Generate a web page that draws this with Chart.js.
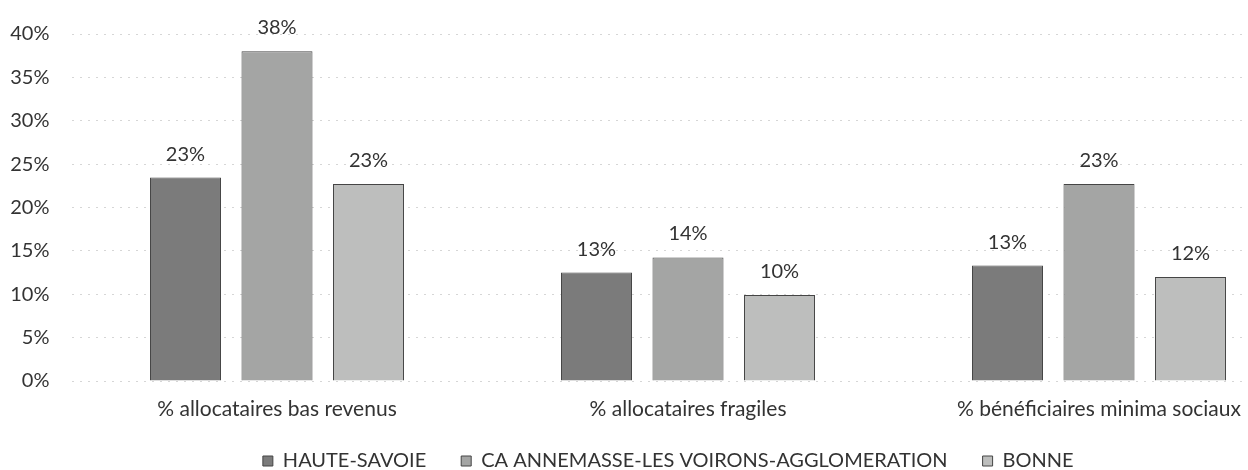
<!DOCTYPE html>
<html>
<head>
<meta charset="utf-8">
<script src="https://cdn.jsdelivr.net/npm/chart.js@4.4.1/dist/chart.umd.min.js"></script>
<style>
  html, body { margin: 0; padding: 0; background: #fff; overflow: hidden; width: 1248px; height: 470px; }
  #wrap { position: absolute; left: 0; top: 0; width: 1336px; height: 470px; }
</style>
</head>
<body>
<div id="wrap"><canvas id="c" width="1336" height="470"></canvas></div>
<script>
// Indicator categories (x axis)
const categories = ['% allocataires bas revenus', '% allocataires fragiles', '% bénéficiaires minima sociaux'];
// Territories (one series each)
const seriesNames = ['HAUTE-SAVOIE', 'CA ANNEMASSE-LES VOIRONS-AGGLOMERATION', 'BONNE'];
// Shares in percent
const hauteSavoie = [23.45, 12.5, 13.3];
const annemasse   = [38.0, 14.25, 22.7];
const bonne       = [22.7, 9.9, 12.0];
// Y axis tick values (percent)
const yTickValues = [0, 5, 10, 15, 20, 25, 30, 35, 40];

const FONT = 'Lato';
const TEXT = '#333333';
const LEGEND_FONT = 20;
const LEGEND_PAD = 35;
const LEGEND_TEXT_Y = 461;   // vertical centre of the legend row
const LEGEND_SHIFT_X = 16;

// Draws the rounded value above each bar
const valueLabels = {
  id: 'valueLabels',
  afterDatasetsDraw(chart) {
    const ctx = chart.ctx;
    ctx.save();
    ctx.font = '20px ' + FONT;
    ctx.fillStyle = TEXT;
    ctx.textAlign = 'center';
    ctx.textBaseline = 'alphabetic';
    chart.data.datasets.forEach((ds, i) => {
      chart.getDatasetMeta(i).data.forEach((bar, j) => {
        ctx.fillText(Math.round(ds.data[j]) + '%', bar.x, bar.y - 17);
      });
    });
    ctx.restore();
  }
};

// Moves the legend box after layout so it can sit close to the axis labels
const legendPlacement = {
  id: 'legendPlacement',
  afterLayout(chart) {
    const lg = chart.legend;
    lg.top = LEGEND_TEXT_Y - LEGEND_FONT / 2 - LEGEND_PAD;
    lg.bottom = chart.height;
    lg.height = lg.bottom - lg.top;
    lg.left += LEGEND_SHIFT_X;
    lg.right += LEGEND_SHIFT_X;
  }
};

const barStyle = { borderWidth: 1, borderColor: '#454545', categoryPercentage: 0.668, barPercentage: 0.776 };

new Chart(document.getElementById('c'), {
  type: 'bar',
  data: {
    labels: categories,
    datasets: [
      Object.assign({ label: seriesNames[0], data: hauteSavoie, backgroundColor: '#7b7b7b' }, barStyle),
      Object.assign({ label: seriesNames[1], data: annemasse,   backgroundColor: '#a4a5a4' }, barStyle),
      Object.assign({ label: seriesNames[2], data: bonne,       backgroundColor: '#bdbebd' }, barStyle)
    ]
  },
  options: {
    responsive: false,
    animation: false,
    devicePixelRatio: 1,
    layout: { padding: { left: 0, right: 31.5, top: 30, bottom: 0 } },
    plugins: {
      tooltip: { enabled: false },
      legend: {
        position: 'bottom',
        maxHeight: 30,
        labels: {
          font: { family: FONT, size: LEGEND_FONT },
          color: TEXT,
          boxWidth: 10,
          boxHeight: 10,
          padding: LEGEND_PAD
        }
      }
    },
    scales: {
      x: {
        grid: { display: false, drawTicks: false },
        border: { display: false },
        ticks: { font: { family: FONT, size: 21 }, color: TEXT, padding: 16, maxRotation: 0 },
        afterFit(s) { s.height = 59; }
      },
      y: {
        min: 0,
        max: 40,
        afterBuildTicks(s) { s.ticks = yTickValues.map(v => ({ value: v })); },
        grid: { color: '#d6d6d6', lineWidth: 1, drawTicks: false },
        border: { display: false, dash: [2, 6] },
        ticks: { font: { family: FONT, size: 20 }, color: TEXT, padding: 22, callback: v => v + '%' },
        afterFit(s) { s.width = 71.5; }
      }
    }
  },
  plugins: [valueLabels, legendPlacement]
});
</script>
</body>
</html>
